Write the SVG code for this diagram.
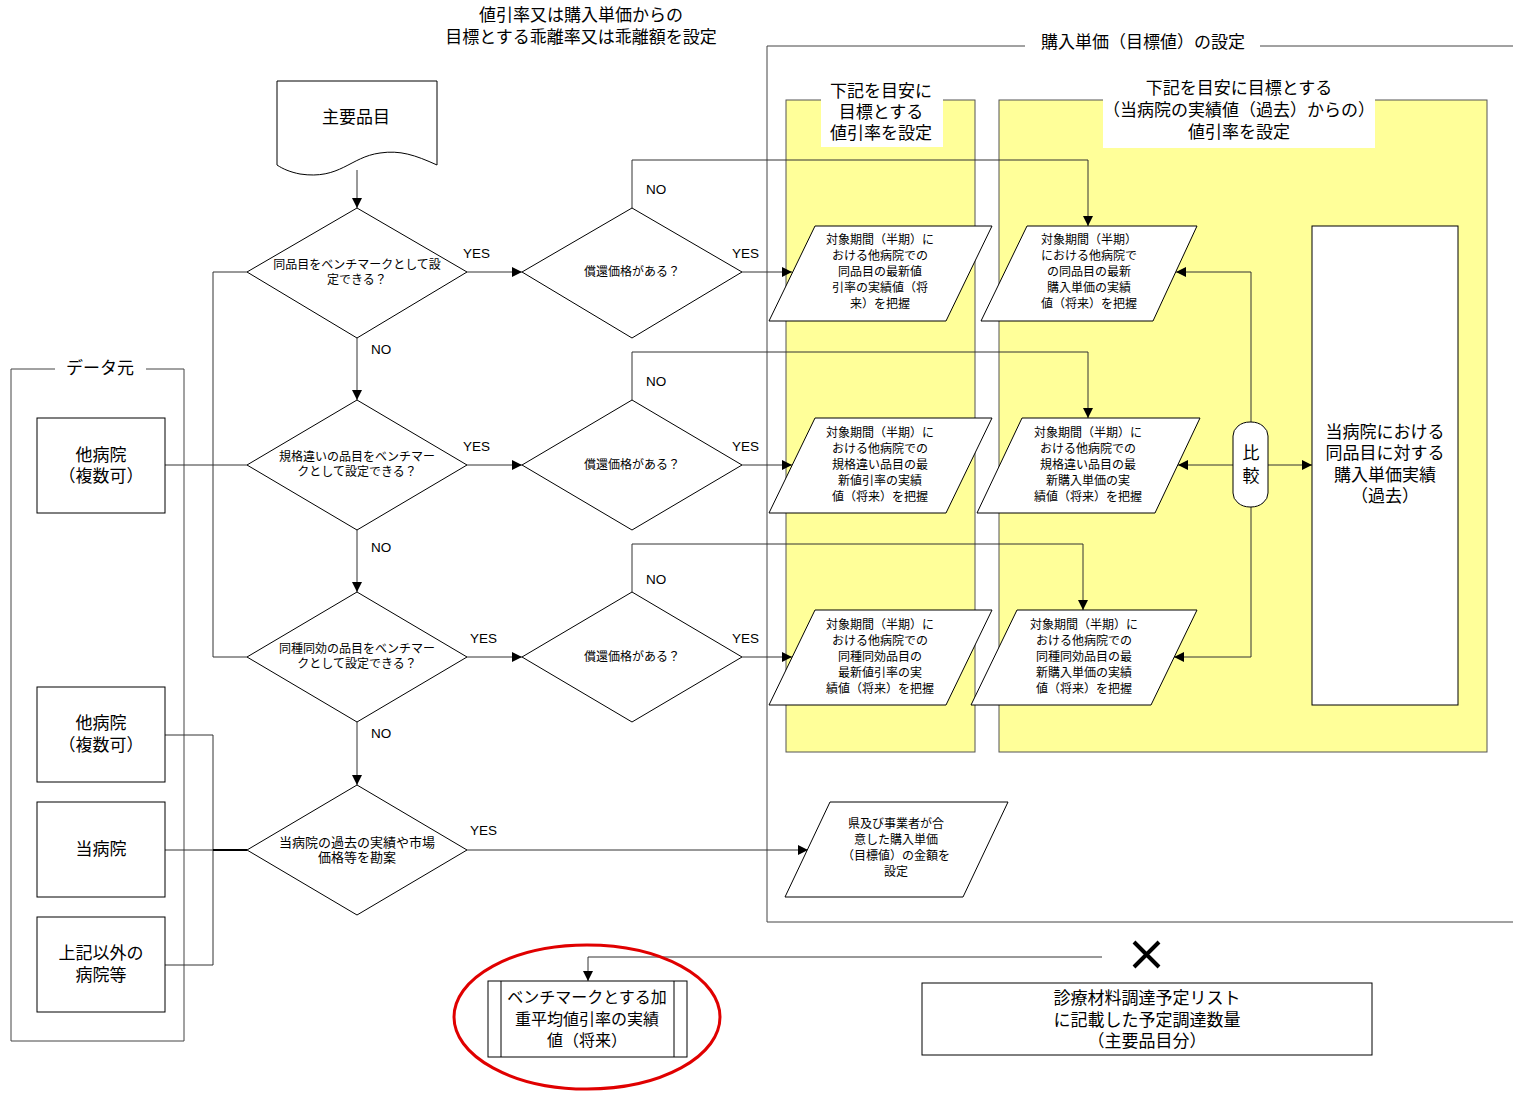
<svg xmlns="http://www.w3.org/2000/svg" width="1513" height="1094" viewBox="0 0 1513 1094">
<style>
.b{fill:#fff;stroke:#000;stroke-width:1}
.y{fill:#ffff99;stroke:#555;stroke-width:1}
.c{fill:none;stroke:#333;stroke-width:1}
.g{fill:none;stroke:#444;stroke-width:1}
.t{font-family:"Liberation Sans","Noto Sans CJK JP","Noto Sans CJK SC",sans-serif;fill:#000;text-anchor:middle;dominant-baseline:central}
.s12{font-size:12px}
.s13{font-size:13px}
.s16{font-size:16px}
.s17{font-size:17px}
.l{font-family:"Liberation Sans",Arial,sans-serif;font-size:13.5px;fill:#000}
</style>
<defs>
<marker id="a" viewBox="0 0 10 10" refX="10" refY="5" markerWidth="11" markerHeight="10" markerUnits="userSpaceOnUse" orient="auto"><path d="M0,0 L10,5 L0,10 z" fill="#000"/></marker>
</defs>
<rect width="1513" height="1094" fill="#fff"/>

<g id="title">
<text class="t s17" x="581" y="15">値引率又は購入単価からの<tspan x="581" dy="22">目標とする乖離率又は乖離額を設定</tspan></text>
</g>

<g id="purchase-frame">
<path class="g" d="M1025,46 H767 V922 H1513 M1260,46 H1513"/>
<text class="t s17" x="1143" y="42">購入単価（目標値）の設定</text>
</g>

<g id="lane-left">
<rect class="y" x="786" y="100" width="189" height="652"/>
<rect x="821" y="79" width="122" height="68" fill="#fff"/>
<text class="t s17" x="881" y="91">下記を目安に<tspan x="881" dy="21">目標とする</tspan><tspan x="881" dy="21">値引率を設定</tspan></text>
</g>

<g id="lane-right">
<rect class="y" x="999" y="100" width="488" height="652"/>
<rect x="1103" y="77" width="272" height="71" fill="#fff"/>
<text class="t s17" x="1239" y="88">下記を目安に目標とする<tspan x="1239" dy="22">（当病院の実績値（過去）からの）</tspan><tspan x="1239" dy="22">値引率を設定</tspan></text>
</g>

<g id="datasource-frame">
<path class="g" d="M55,369 H11 V1041 H184 V369 H146"/>
<text class="t s17" x="100" y="368">データ元</text>
</g>

<g id="connectors">
<path class="c" d="M357,170 V208" marker-end="url(#a)"/>
<path class="c" d="M357,338 V400" marker-end="url(#a)"/>
<path class="c" d="M357,530 V592" marker-end="url(#a)"/>
<path class="c" d="M357,722 V785" marker-end="url(#a)"/>
<path class="c" d="M467,272 H522" marker-end="url(#a)"/>
<path class="c" d="M467,465 H522" marker-end="url(#a)"/>
<path class="c" d="M467,657 H522" marker-end="url(#a)"/>
<path class="c" d="M742,272 H792" marker-end="url(#a)"/>
<path class="c" d="M742,465 H792" marker-end="url(#a)"/>
<path class="c" d="M742,657 H792" marker-end="url(#a)"/>
<path class="c" d="M632,208 V160 H1088 V226" marker-end="url(#a)"/>
<path class="c" d="M632,400 V352 H1088 V418" marker-end="url(#a)"/>
<path class="c" d="M632,592 V544 H1083 V610" marker-end="url(#a)"/>
<path class="c" d="M467,850 H808" marker-end="url(#a)"/>
<path class="c" d="M1251,272 V657"/>
<path class="c" d="M1251,272 H1176" marker-end="url(#a)"/>
<path class="c" d="M1251,657 H1174" marker-end="url(#a)"/>
<path class="c" d="M1233,465 H1178" marker-end="url(#a)"/>
<path class="c" d="M1268,465 H1312" marker-end="url(#a)"/>
<path class="c" d="M213,272 V657 M213,272 H247 M213,657 H247 M165,465 H247"/>
<path class="c" d="M165,735 H213 V965 H165 M165,850 H213"/>
<path d="M213,850 H247" stroke="#000" stroke-width="2"/>
<path class="c" d="M1102,957 H588 V981" marker-end="url(#a)"/>
<text class="l" x="463" y="258">YES</text>
<text class="l" x="732" y="258">YES</text>
<text class="l" x="463" y="451">YES</text>
<text class="l" x="732" y="451">YES</text>
<text class="l" x="470" y="643">YES</text>
<text class="l" x="732" y="643">YES</text>
<text class="l" x="470" y="835">YES</text>
<text class="l" x="646" y="194">NO</text>
<text class="l" x="646" y="386">NO</text>
<text class="l" x="646" y="584">NO</text>
<text class="l" x="371" y="354">NO</text>
<text class="l" x="371" y="552">NO</text>
<text class="l" x="371" y="738">NO</text>
</g>

<g id="main-items">
<path class="b" d="M277,81 H437 V165 C415,155 400,150 380,153 C350,157 340,180 300,174 C290,172 283,169 277,165 Z"/>
<text class="t s17" x="356" y="117">主要品目</text>
</g>

<g id="q-same">
<polygon class="b" points="357,208 467,272 357,338 247,272"/>
<text class="t s12" x="357" y="265">同品目をベンチマークとして設<tspan x="357" dy="15">定できる？</tspan></text>
</g>
<g id="q-spec">
<polygon class="b" points="357,400 467,465 357,530 247,465"/>
<text class="t s12" x="357" y="457">規格違いの品目をベンチマー<tspan x="357" dy="15">クとして設定できる？</tspan></text>
</g>
<g id="q-kind">
<polygon class="b" points="357,592 467,657 357,722 247,657"/>
<text class="t s12" x="357" y="649">同種同効の品目をベンチマー<tspan x="357" dy="15">クとして設定できる？</tspan></text>
</g>
<g id="q-past">
<polygon class="b" points="357,785 467,850 357,915 247,850"/>
<text class="t s13" x="357" y="842">当病院の過去の実績や市場<tspan x="357" dy="15">価格等を勘案</tspan></text>
</g>

<g id="q-price1">
<polygon class="b" points="632,208 742,272 632,338 522,272"/>
<text class="t s12" x="632" y="272">償還価格がある？</text>
</g>
<g id="q-price2">
<polygon class="b" points="632,400 742,465 632,530 522,465"/>
<text class="t s12" x="632" y="465">償還価格がある？</text>
</g>
<g id="q-price3">
<polygon class="b" points="632,592 742,657 632,722 522,657"/>
<text class="t s12" x="632" y="657">償還価格がある？</text>
</g>

<g id="p1a">
<polygon class="b" points="815,226 992,226 946,321 769,321"/>
<text class="t s12" x="880" y="240">対象期間（半期）に<tspan x="880" dy="16">おける他病院での</tspan><tspan x="880" dy="16">同品目の最新値</tspan><tspan x="880" dy="16">引率の実績値（将</tspan><tspan x="880" dy="16">来）を把握</tspan></text>
</g>
<g id="p1b">
<polygon class="b" points="1027,226 1197,226 1153,321 981,321"/>
<text class="t s12" x="1089" y="240">対象期間（半期）<tspan x="1089" dy="16">における他病院で</tspan><tspan x="1089" dy="16">の同品目の最新</tspan><tspan x="1089" dy="16">購入単価の実績</tspan><tspan x="1089" dy="16">値（将来）を把握</tspan></text>
</g>
<g id="p2a">
<polygon class="b" points="815,418 992,418 946,513 769,513"/>
<text class="t s12" x="880" y="433">対象期間（半期）に<tspan x="880" dy="16">おける他病院での</tspan><tspan x="880" dy="16">規格違い品目の最</tspan><tspan x="880" dy="16">新値引率の実績</tspan><tspan x="880" dy="16">値（将来）を把握</tspan></text>
</g>
<g id="p2b">
<polygon class="b" points="1022,418 1200,418 1155,513 977,513"/>
<text class="t s12" x="1088" y="433">対象期間（半期）に<tspan x="1088" dy="16">おける他病院での</tspan><tspan x="1088" dy="16">規格違い品目の最</tspan><tspan x="1088" dy="16">新購入単価の実</tspan><tspan x="1088" dy="16">績値（将来）を把握</tspan></text>
</g>
<g id="p3a">
<polygon class="b" points="815,610 992,610 946,705 769,705"/>
<text class="t s12" x="880" y="625">対象期間（半期）に<tspan x="880" dy="16">おける他病院での</tspan><tspan x="880" dy="16">同種同効品目の</tspan><tspan x="880" dy="16">最新値引率の実</tspan><tspan x="880" dy="16">績値（将来）を把握</tspan></text>
</g>
<g id="p3b">
<polygon class="b" points="1017,610 1197,610 1151,705 971,705"/>
<text class="t s12" x="1084" y="625">対象期間（半期）に<tspan x="1084" dy="16">おける他病院での</tspan><tspan x="1084" dy="16">同種同効品目の最</tspan><tspan x="1084" dy="16">新購入単価の実績</tspan><tspan x="1084" dy="16">値（将来）を把握</tspan></text>
</g>
<g id="p4">
<polygon class="b" points="830,802 1008,802 963,897 785,897"/>
<text class="t s12" x="896" y="824">県及び事業者が合<tspan x="896" dy="16">意した購入単価</tspan><tspan x="896" dy="16">（目標値）の金額を</tspan><tspan x="896" dy="16">設定</tspan></text>
</g>

<g id="compare">
<rect class="b" x="1233" y="422" width="35" height="85" rx="17" ry="14"/>
<text class="t s17" x="1251" y="453">比<tspan x="1251" dy="23">較</tspan></text>
</g>
<g id="own-past">
<rect class="b" x="1312" y="226" width="146" height="479"/>
<text class="t s17" x="1385" y="432">当病院における<tspan x="1385" dy="21.3">同品目に対する</tspan><tspan x="1385" dy="21.3">購入単価実績</tspan><tspan x="1385" dy="21.3">（過去）</tspan></text>
</g>

<g id="ds-other1">
<rect class="b" x="37" y="418" width="128" height="95"/>
<text class="t s17" x="101" y="455">他病院<tspan x="101" dy="21">（複数可）</tspan></text>
</g>
<g id="ds-other2">
<rect class="b" x="37" y="687" width="128" height="95"/>
<text class="t s17" x="101" y="723">他病院<tspan x="101" dy="22">（複数可）</tspan></text>
</g>
<g id="ds-own">
<rect class="b" x="37" y="802" width="128" height="95"/>
<text class="t s17" x="101" y="849">当病院</text>
</g>
<g id="ds-others">
<rect class="b" x="37" y="917" width="128" height="95"/>
<text class="t s17" x="101" y="953">上記以外の<tspan x="101" dy="22">病院等</tspan></text>
</g>

<g id="benchmark">
<rect class="b" x="488" y="981" width="199" height="76"/>
<path class="b" d="M501,981 V1057 M674,981 V1057"/>
<text class="t s16" x="587" y="997">ベンチマークとする加<tspan x="587" dy="22">重平均値引率の実績</tspan><tspan x="587" dy="21">値（将来）</tspan></text>
<ellipse cx="587" cy="1017" rx="133" ry="72" fill="none" stroke="#e00000" stroke-width="3"/>
</g>

<g id="multiply">
<path d="M1134,942 L1159,967 M1159,942 L1134,967" stroke="#000" stroke-width="4"/>
</g>

<g id="quantity">
<rect class="b" x="922" y="983" width="450" height="72"/>
<text class="t s17" x="1147" y="998">診療材料調達予定リスト<tspan x="1147" dy="22">に記載した予定調達数量</tspan><tspan x="1147" dy="21">（主要品目分）</tspan></text>
</g>
</svg>
